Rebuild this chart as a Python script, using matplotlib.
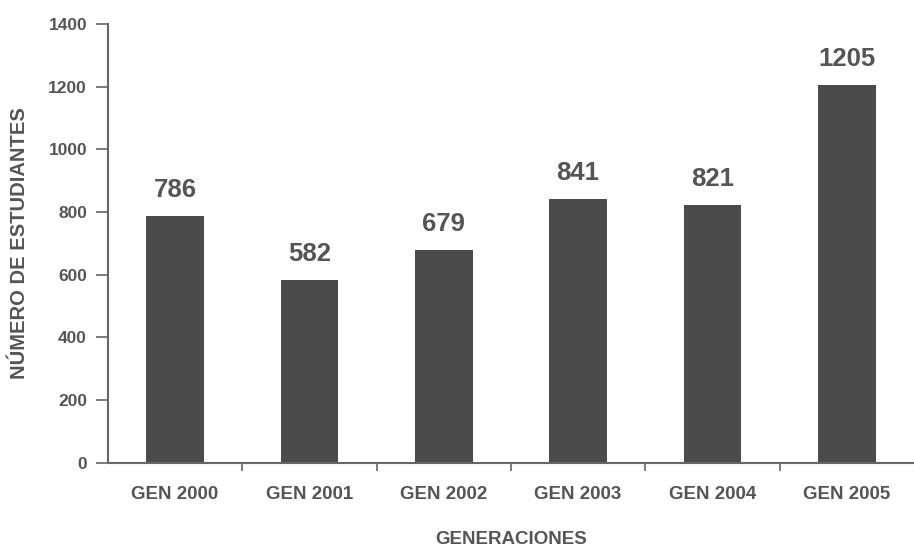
import matplotlib.pyplot as plt
import numpy as np

generaciones = ['GEN 2000', 'GEN 2001', 'GEN 2002', 'GEN 2003', 'GEN 2004', 'GEN 2005']
estudiantes = [786, 582, 679, 841, 821, 1205]

plt.rcParams['font.family'] = ['Liberation Sans', 'DejaVu Sans']
plt.rcParams['font.weight'] = 'bold'

txt = '#555555'
fig = plt.figure(figsize=(9.14, 5.47), dpi=100)
ax = fig.add_axes([0.118, 0.154, 0.882, 0.802])

x = np.arange(len(generaciones))
ax.bar(x, estudiantes, width=0.43, color='#4b4b4b')

for xi, v in zip(x, estudiantes):
    ax.text(xi, v + 45, str(v), ha='center', va='bottom', fontsize=18.5,
            fontweight='bold', color=txt)

ax.set_xlim(-0.5, len(generaciones) - 0.5)
ax.set_ylim(0, 1400)
ax.set_yticks(range(0, 1401, 200))
ax.set_xticks(x)
ax.set_xticklabels(generaciones, fontsize=13.5, fontweight='bold', color=txt)
ax.set_xticks(np.arange(0.5, len(generaciones) - 0.5), minor=True)
ax.tick_params(axis='x', which='major', length=0, pad=17)
ax.tick_params(axis='x', which='minor', length=6, width=1.2, color='#666666')
ax.tick_params(axis='y', length=9, width=1.2, color='#666666', labelsize=12.5,
               labelcolor=txt, pad=6)
for lbl in ax.get_yticklabels():
    lbl.set_fontweight('bold')

for s in ['top', 'right']:
    ax.spines[s].set_visible(False)
for s in ['left', 'bottom']:
    ax.spines[s].set_color('#666666')
    ax.spines[s].set_linewidth(1.5)

ax.set_xlabel('GENERACIONES', fontsize=13.5, fontweight='bold', color=txt, labelpad=20)
ax.set_ylabel('NÚMERO DE ESTUDIANTES', fontsize=14.5, fontweight='bold', color=txt, labelpad=14)

fig.savefig('out.png', dpi=100)
